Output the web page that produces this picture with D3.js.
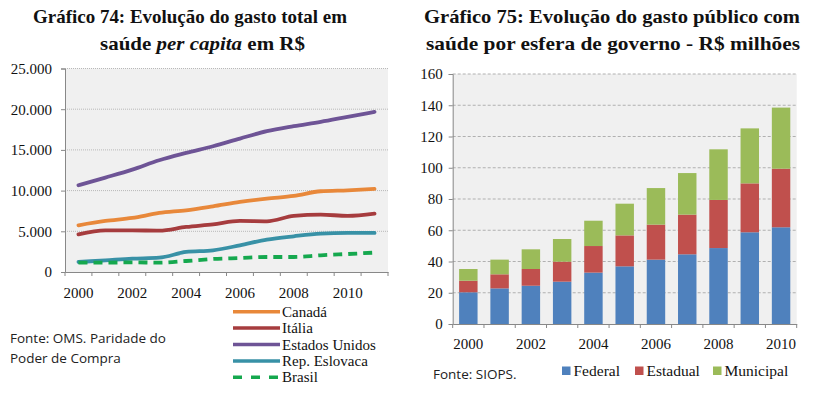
<!DOCTYPE html>
<html><head><meta charset="utf-8">
<script src="https://cdn.jsdelivr.net/npm/d3@7"></script>
<style>body{margin:0;background:#fff}svg{display:block}</style>
</head><body>
<script>
// ---- Data: Gráfico 74 ----
const years74 = [2000,2001,2002,2003,2004,2005,2006,2007,2008,2009,2010,2011];
const yTicks74 = [0,5000,10000,15000,20000,25000];
const xLabels74 = [2000,2002,2004,2006,2008,2010];
const seriesNames74 = ["Canadá","Itália","Estados Unidos","Rep. Eslovaca","Brasil"];
const canada = [5740,6270,6640,7250,7580,8070,8610,9020,9340,9920,10040,10200];
const italia = [4630,5120,5120,5080,5530,5860,6270,6230,6890,7050,6890,7170];
const eua = [10660,11600,12580,13730,14630,15450,16390,17300,17910,18440,19060,19670];
const eslovaca = [1230,1430,1640,1760,2460,2660,3280,3980,4390,4710,4800,4800];
const brasil = [1150,1150,1190,1150,1350,1600,1720,1840,1840,2050,2210,2380];

// ---- Data: Gráfico 75 ----
const years75 = [2000,2001,2002,2003,2004,2005,2006,2007,2008,2009,2010];
const yTicks75 = [0,20,40,60,80,100,120,140,160];
const xLabels75 = [2000,2002,2004,2006,2008,2010];
const stackNames75 = ["Federal","Estadual","Municipal"];
const federal = [20.3,22.8,24.5,27.1,32.9,36.9,41.2,44.6,48.6,58.7,61.9];
const estadual = [7.4,9.0,10.7,12.8,17.0,19.8,22.4,25.4,30.8,31.3,37.5];
const municipal = [7.5,9.4,12.6,14.5,16.2,20.3,23.4,26.6,32.4,35.2,39.1];

const W = 813, H = 408;
const svg = d3.select("body").append("svg").attr("width", W).attr("height", H);
const serif = "'Liberation Serif','Times New Roman',serif";
const sans = "'Open Sans','Liberation Sans',sans-serif";

function title(x, y, len, parts) {
  const t = svg.append("text").attr("x", x).attr("y", y)
    .attr("font-family", serif).attr("font-weight", "bold").attr("font-size", 19)
    .attr("fill", "#111").attr("textLength", len).attr("lengthAdjust", "spacingAndGlyphs");
  parts.forEach(p => t.append("tspan").attr("font-style", p.i ? "italic" : null).text(p.t));
}
title(33, 23, 314, [{t:"Gráfico 74: Evolução do gasto total em"}]);
title(100, 50, 205, [{t:"saúde "},{t:"per capita", i:true},{t:" em R$"}]);
title(424, 23, 376, [{t:"Gráfico 75: Evolução do gasto público com"}]);
title(426, 50, 374, [{t:"saúde por esfera de governo - R$ milhões"}]);

// ---------- Chart 74 ----------
{
  const L = 65, R = 388, T = 68.5, B = 272;
  const g = svg.append("g");
  g.append("rect").attr("x", L).attr("y", T).attr("width", R-L).attr("height", B-T).attr("fill", "#f0f0f0");
  const x = d3.scaleBand().domain(years74).range([L, R]).padding(0);
  const y = d3.scaleLinear().domain([0, 25000]).range([B, T]);
  const fmt = d => d3.format(",")(d).replace(/,/g, ".");
  g.selectAll(".grid").data(yTicks74.filter(d => d > 0)).join("line")
    .attr("x1", L).attr("x2", R).attr("y1", d => y(d)).attr("y2", d => y(d))
    .attr("stroke", "#b8b8b8").attr("stroke-width", 1).attr("stroke-dasharray", "1,1");
  const ya = g.append("g").attr("transform", `translate(${L},0)`)
    .call(d3.axisLeft(y).tickValues(yTicks74).tickFormat(fmt).tickSizeOuter(0).tickSize(4).tickPadding(9));
  ya.select(".domain").attr("stroke", "#888");
  ya.selectAll(".tick line").attr("stroke", "#888");
  ya.selectAll("text").attr("font-family", serif).attr("font-size", 15).attr("fill", "#111");
  const xa = g.append("g").attr("transform", `translate(0,${B})`)
    .call(d3.axisBottom(x).tickValues([]).tickSizeOuter(0));
  xa.select(".domain").attr("stroke", "#888");
  g.selectAll(".xt").data(years74.concat(["end"])).join("line")
    .attr("x1", (d,i) => L + i * x.bandwidth()).attr("x2", (d,i) => L + i * x.bandwidth())
    .attr("y1", B).attr("y2", B + 4).attr("stroke", "#888");
  g.selectAll(".xl").data(xLabels74).join("text")
    .attr("x", d => x(d) + x.bandwidth()/2).attr("y", B + 26)
    .attr("text-anchor", "middle").attr("font-family", serif).attr("font-size", 15).attr("fill", "#111")
    .text(d => d);
  const series = [
    {name: seriesNames74[0], v: canada, c: "#e8883a"},
    {name: seriesNames74[1], v: italia, c: "#a63c3e"},
    {name: seriesNames74[2], v: eua, c: "#6e5496"},
    {name: seriesNames74[3], v: eslovaca, c: "#3891a6"},
    {name: seriesNames74[4], v: brasil, c: "#15a84e", dash: "9,6"}
  ];
  const line = d3.line().x((d,i) => x(years74[i]) + x.bandwidth()/2).y(d => y(d)).curve(d3.curveMonotoneX);
  series.forEach(s => {
    g.append("path").attr("d", line(s.v)).attr("fill", "none").attr("stroke", s.c)
      .attr("stroke-width", 3.8).attr("stroke-linecap", s.dash ? "butt" : "round")
      .attr("stroke-dasharray", s.dash || null);
  });
  const lg = g.append("g");
  series.forEach((s, i) => {
    const cy = 311.7 + i * 16.4;
    lg.append("line").attr("x1", 233).attr("x2", 280).attr("y1", cy).attr("y2", cy)
      .attr("stroke", s.c).attr("stroke-width", 3.5).attr("stroke-dasharray", s.dash ? "9,9" : null);
    lg.append("text").attr("x", 282).attr("y", cy + 5).attr("font-family", serif).attr("font-size", 15)
      .attr("fill", "#111").text(s.name);
  });
  g.append("text").attr("x", 10).attr("y", 343).attr("font-family", sans).attr("font-size", 13.5).attr("fill", "#222").text("Fonte: OMS. Paridade do");
  g.append("text").attr("x", 10).attr("y", 363).attr("font-family", sans).attr("font-size", 13.5).attr("fill", "#222").text("Poder de Compra");
}

// ---------- Chart 75 ----------
{
  const L = 452.7, R = 796.7, T = 74, B = 324;
  const g = svg.append("g");
  g.append("rect").attr("x", L).attr("y", T).attr("width", R-L).attr("height", B-T).attr("fill", "#f0f0f0");
  const x = d3.scaleBand().domain(years75).range([L, R]).paddingInner(0.41).paddingOuter(0.205);
  const xb = d3.scaleBand().domain(years75).range([L, R]).padding(0);
  const y = d3.scaleLinear().domain([0, 160]).range([B, T]);
  g.selectAll(".grid").data(yTicks75.filter(d => d > 0)).join("line")
    .attr("x1", L).attr("x2", R).attr("y1", d => y(d)).attr("y2", d => y(d))
    .attr("stroke", "#b0b0b0").attr("stroke-width", 1).attr("stroke-dasharray", "3,2");
  const rows = years75.map((yr, i) => ({year: yr, Federal: federal[i], Estadual: estadual[i], Municipal: municipal[i]}));
  const stack = d3.stack().keys(stackNames75)(rows);
  const colors = {Federal: "#4f81bd", Estadual: "#c0504d", Municipal: "#9bbb59"};
  stack.forEach(layer => {
    g.selectAll(null).data(layer).join("rect")
      .attr("x", d => x(d.data.year)).attr("width", x.bandwidth())
      .attr("y", d => y(d[1])).attr("height", d => y(d[0]) - y(d[1]))
      .attr("fill", colors[layer.key]);
  });
  const ya = g.append("g").attr("transform", `translate(${L},0)`)
    .call(d3.axisLeft(y).tickValues(yTicks75).tickSizeOuter(0).tickSize(4).tickPadding(6));
  ya.select(".domain").attr("stroke", "#888");
  ya.selectAll(".tick line").attr("stroke", "#888");
  ya.selectAll("text").attr("font-family", serif).attr("font-size", 15).attr("fill", "#111");
  const xa = g.append("g").attr("transform", `translate(0,${B})`)
    .call(d3.axisBottom(xb).tickValues([]).tickSizeOuter(0));
  xa.select(".domain").attr("stroke", "#888");
  g.selectAll(".xt").data(years75.concat(["end"])).join("line")
    .attr("x1", (d,i) => L + i * xb.bandwidth()).attr("x2", (d,i) => L + i * xb.bandwidth())
    .attr("y1", B).attr("y2", B + 4).attr("stroke", "#888");
  g.selectAll(".xl").data(xLabels75).join("text")
    .attr("x", d => xb(d) + xb.bandwidth()/2).attr("y", B + 25)
    .attr("text-anchor", "middle").attr("font-family", serif).attr("font-size", 15).attr("fill", "#111")
    .text(d => d);
  const lx = [562, 635, 713];
  stackNames75.forEach((k, i) => {
    g.append("rect").attr("x", lx[i]).attr("y", 366.5).attr("width", 8.5).attr("height", 8.5).attr("fill", colors[k]);
    g.append("text").attr("x", lx[i] + 11.5).attr("y", 376).attr("font-family", serif).attr("font-size", 15.5)
      .attr("fill", "#111").text(k);
  });
  g.append("text").attr("x", 433).attr("y", 379).attr("font-family", sans).attr("font-size", 13.5).attr("fill", "#222").text("Fonte: SIOPS.");
}
</script>
</body></html>
